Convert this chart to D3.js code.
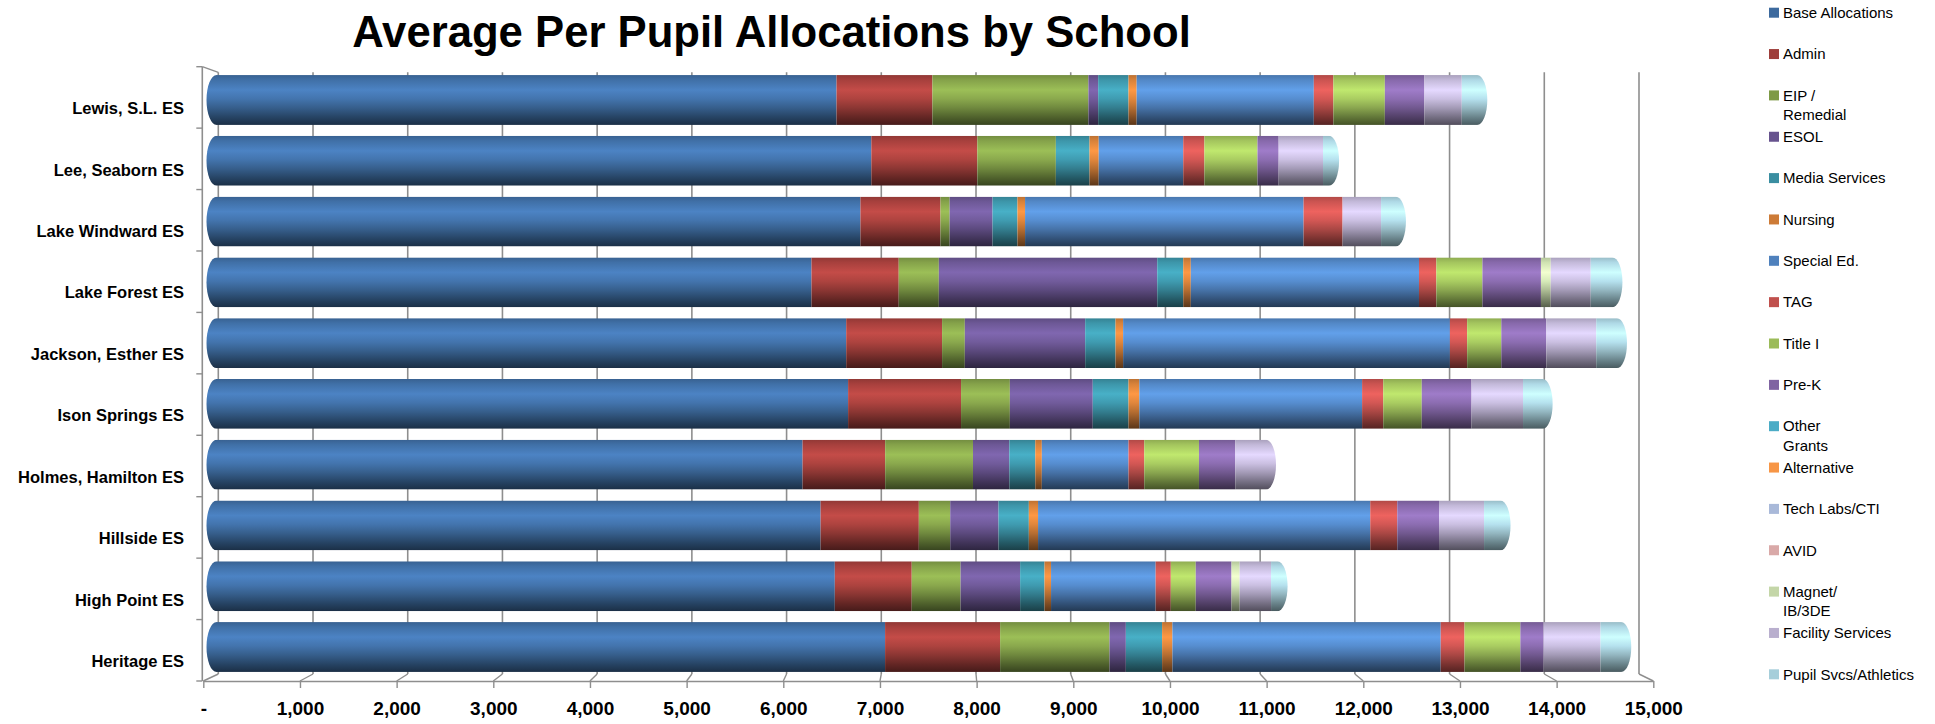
<!DOCTYPE html>
<html>
<head>
<meta charset="utf-8">
<script src="https://cdn.jsdelivr.net/npm/d3@7"></script>
<style>
  html, body { margin: 0; padding: 0; background: #ffffff; }
  svg { display: block; font-family: "Liberation Sans", Arial, sans-serif; }
</style>
</head>
<body>
<script>
// ---------------- DATA ----------------
const categories = ["Lewis, S.L. ES", "Lee, Seaborn ES", "Lake Windward ES", "Lake Forest ES",
  "Jackson, Esther ES", "Ison Springs ES", "Holmes, Hamilton ES", "Hillside ES", "High Point ES", "Heritage ES"];

const seriesNames = ["Base Allocations", "Admin", "EIP /\nRemedial", "ESOL", "Media Services", "Nursing",
  "Special Ed.", "TAG", "Title I", "Pre-K", "Other\nGrants", "Alternative", "Tech Labs/CTI", "AVID",
  "Magnet/\nIB/3DE", "Facility Services", "Pupil Svcs/Athletics"];

const seriesColors = ["#3d6a9e", "#9e3d3a", "#7e9a46", "#67538e", "#3a8ea1", "#cd7b37",
  "#4f81bd", "#c0504d", "#9bbb59", "#8064a2", "#4bacc6", "#f79646", "#a9b9d9", "#d9a9a8",
  "#c4d6a8", "#b9afce", "#a6ceda"];

// values per series, in category order (Lewis ... Heritage)
const baseAllocations = [6538, 6905, 6790, 6274, 6640, 6660, 6180, 6370, 6520, 7050];
const admin           = [1011, 1118, 844, 920, 1011, 1191, 871, 1036, 811, 1213];
const eipRemedial     = [1645, 828, 97, 423, 240, 515, 926, 331, 515, 1154];
const esol            = [103, 0, 452, 2303, 1269, 874, 383, 509, 628, 172];
const mediaServices   = [320, 355, 263, 274, 320, 377, 274, 320, 257, 382];
const nursing         = [86, 97, 80, 80, 80, 114, 69, 97, 69, 109];
const specialEd       = [1868, 891, 2937, 2406, 3446, 2349, 914, 3503, 1103, 2829];
const tag             = [206, 223, 411, 183, 182, 223, 166, 285, 160, 251];
const titleI          = [543, 560, 0, 486, 360, 406, 577, 0, 263, 589];
const preK            = [417, 223, 0, 617, 475, 525, 383, 440, 377, 245];
const otherGrants     = [0, 0, 0, 0, 0, 0, 0, 0, 0, 0];
const alternative     = [0, 0, 0, 0, 0, 0, 0, 0, 0, 0];
const techLabs        = [0, 0, 0, 0, 0, 0, 0, 0, 0, 0];
const avid            = [0, 0, 0, 0, 0, 0, 0, 0, 0, 0];
const magnet          = [0, 0, 0, 103, 0, 0, 0, 0, 86, 0];
const facilityServices= [394, 468, 406, 422, 526, 543, 345, 475, 331, 600];
const pupilSvcs       = [185, 85, 178, 250, 240, 228, 0, 195, 90, 240];

const seriesValues = [baseAllocations, admin, eipRemedial, esol, mediaServices, nursing, specialEd,
  tag, titleI, preK, otherGrants, alternative, techLabs, avid, magnet, facilityServices, pupilSvcs];

const xTickValues = [0, 1000, 2000, 3000, 4000, 5000, 6000, 7000, 8000, 9000, 10000, 11000, 12000, 13000, 14000, 15000];
const xTickLabels = ["-", "1,000", "2,000", "3,000", "4,000", "5,000", "6,000", "7,000", "8,000", "9,000",
  "10,000", "11,000", "12,000", "13,000", "14,000", "15,000"];
const chartTitle = "Average Per Pupil Allocations by School";

// ---------------- LAYOUT ----------------
const W = 1935, H = 724;
const wallTop = 72.3, floorBack = 674, floorFront = 681, frontTop = 66.7;

const svg = d3.select("body").append("svg").attr("width", W).attr("height", H);
const defs = svg.append("defs");

const xBack = d3.scaleLinear().domain([0, 15000]).range([218.3, 1639]);
const xFront = d3.scaleLinear().domain([0, 15000]).range([203.3, 1653.3]);
const xBar = d3.scaleLinear().domain([0, 15000]).range([216.5, 1639]);
const yBar = d3.scaleBand().domain(categories).range([69.6, 677.4]).paddingInner(0.18).paddingOuter(0.09);
const yFront = d3.scaleBand().domain(categories).range([frontTop, floorFront]);

const gridColor = "#8e8e8e";

// ---------------- TITLE ----------------
const title = svg.append("text")
  .attr("x", 771.5).attr("y", 47)
  .attr("text-anchor", "middle")
  .attr("font-weight", "bold")
  .attr("font-size", 43.5)
  .attr("fill", "#000")
  .text(chartTitle);
const tl = title.node().getComputedTextLength();
if (tl > 0) title.attr("font-size", 43.5 * 839 / tl);

// ---------------- WALLS / GRID ----------------
const grid = svg.append("g");
grid.selectAll("line.back").data(xTickValues).join("line")
  .attr("x1", d => xBack(d)).attr("x2", d => xBack(d))
  .attr("y1", wallTop).attr("y2", floorBack)
  .attr("stroke", gridColor).attr("stroke-width", 1.6);
grid.selectAll("line.floor").data(xTickValues).join("line")
  .attr("x1", d => xBack(d)).attr("x2", d => xFront(d))
  .attr("y1", floorBack).attr("y2", floorFront)
  .attr("stroke", gridColor).attr("stroke-width", 1.4);
// left wall
grid.append("line").attr("x1", xFront(0) - 1).attr("x2", xFront(0) - 1)
  .attr("y1", frontTop).attr("y2", floorFront).attr("stroke", gridColor).attr("stroke-width", 1.6);
grid.append("line").attr("x1", xFront(0) - 1).attr("x2", xBack(0))
  .attr("y1", frontTop).attr("y2", wallTop).attr("stroke", gridColor).attr("stroke-width", 1.4);
const boundaries = categories.map(c => yFront(c)).concat([floorFront]);
grid.selectAll("line.ytick").data(boundaries).join("line")
  .attr("x1", xFront(0) - 7).attr("x2", xFront(0) - 1)
  .attr("y1", d => d).attr("y2", d => d)
  .attr("stroke", gridColor).attr("stroke-width", 1.4);

// front x axis
const xAxis = d3.axisBottom(xFront)
  .tickValues(xTickValues)
  .tickFormat((d, i) => xTickLabels[i])
  .tickSize(7).tickSizeOuter(0).tickPadding(14);
const ax = svg.append("g").attr("transform", `translate(0,${floorFront})`).call(xAxis);
ax.select(".domain").attr("stroke", gridColor).attr("stroke-width", 1.6);
ax.selectAll(".tick line").attr("stroke", gridColor).attr("stroke-width", 1.4);
ax.selectAll(".tick text")
  .attr("font-family", "'Liberation Sans', Arial, sans-serif")
  .attr("font-weight", "bold").attr("font-size", 19).attr("fill", "#000");

// ---------------- GRADIENTS ----------------
seriesColors.forEach((col, i) => {
  const c = d3.color(col);
  const g = defs.append("linearGradient").attr("id", "g" + i)
    .attr("x1", 0).attr("y1", 0).attr("x2", 0).attr("y2", 1);
  const stops = [
    [0, c.darker(0.25)], [0.1, c.brighter(0.15)], [0.3, c.brighter(0.6)], [0.48, c.brighter(0.25)],
    [0.66, c.darker(0.35)], [0.85, c.darker(1.3)], [1, c.darker(2.3)]
  ];
  stops.forEach(([o, cc]) => g.append("stop").attr("offset", o).attr("stop-color", cc.formatHex()));
});

// ---------------- BARS ----------------
const table = categories.map((c, ci) => {
  const row = { category: c };
  seriesNames.forEach((s, si) => { row[s] = seriesValues[si][ci]; });
  return row;
});
const stacked = d3.stack().keys(seriesNames)(table);
const totals = table.map(r => d3.sum(seriesNames, s => r[s]));
const rx = 10;

const barsG = svg.append("g");
categories.forEach((c, ci) => {
  const y0 = yBar(c), y1 = y0 + yBar.bandwidth(), ry = yBar.bandwidth() / 2;
  const x0 = xBar(0), x1 = xBar(totals[ci]) - 2;
  const clipId = "clip" + ci;
  defs.append("clipPath").attr("id", clipId).append("path")
    .attr("d", `M${x0},${y0} L${x1},${y0} A${rx},${ry} 0 0 1 ${x1},${y1} L${x0},${y1} A${rx},${ry} 0 0 1 ${x0},${y0} Z`);
  const g = barsG.append("g").attr("clip-path", `url(#${clipId})`);
  stacked.forEach((layer, si) => {
    const d = layer[ci];
    if (d[1] - d[0] <= 0) return;
    const left = xBar(d[0]) - (d[0] === 0 ? rx + 1 : 0);
    const right = xBar(d[1]) + (Math.abs(d[1] - totals[ci]) < 1e-6 ? rx + 1 : 0);
    g.append("rect")
      .attr("x", left).attr("y", y0)
      .attr("width", right - left).attr("height", y1 - y0)
      .attr("fill", `url(#g${si})`);
  });
});

// ---------------- CATEGORY LABELS ----------------
svg.append("g").selectAll("text").data(categories).join("text")
  .attr("x", 184)
  .attr("y", d => yFront(d) + yFront.bandwidth() / 2 + 11)
  .attr("dy", "0.35em")
  .attr("text-anchor", "end")
  .attr("font-weight", "bold").attr("font-size", 16.5).attr("fill", "#000")
  .text(d => d);

// ---------------- LEGEND ----------------
const legend = svg.append("g");
seriesNames.forEach((s, i) => {
  const cy = 12.7 + i * 41.35;
  legend.append("rect").attr("x", 1769).attr("y", cy - 5).attr("width", 10).attr("height", 10)
    .attr("fill", seriesColors[i]);
  const lines = s.split("\n");
  const t = legend.append("text").attr("x", 1783).attr("y", cy)
    .attr("font-size", 15).attr("fill", "#000");
  lines.forEach((ln, li) => {
    t.append("tspan").attr("x", 1783).attr("dy", li === 0 ? "0.35em" : "1.3em").text(ln);
  });
});
</script>
</body>
</html>
